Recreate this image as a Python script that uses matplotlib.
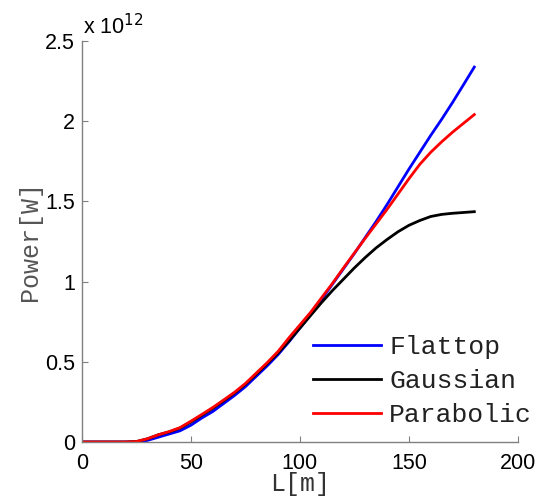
import matplotlib
matplotlib.use('Agg')
import matplotlib.pyplot as plt

# longitud [m] y potencia [x 1e12 W]
L = [0, 5, 10, 15, 20, 25, 30, 35, 40, 45, 50, 55, 60, 65, 70, 75, 80, 85, 90,
     95, 100, 105, 110, 115, 120, 125, 130, 135, 140, 145, 150, 155, 160, 165,
     170, 175, 180]

flattop = [0, 0, 0, 0, 0, 0.001, 0.01, 0.03, 0.05, 0.07, 0.105, 0.15, 0.19,
           0.24, 0.29, 0.345, 0.41, 0.475, 0.545, 0.625, 0.71, 0.795, 0.89,
           0.985, 1.08, 1.175, 1.275, 1.375, 1.48, 1.59, 1.70, 1.805, 1.91,
           2.01, 2.115, 2.225, 2.336]
gaussian = [0, 0, 0, 0, 0, 0.003, 0.02, 0.045, 0.063, 0.087, 0.125, 0.167, 0.21,
            0.257, 0.305, 0.36, 0.423, 0.488, 0.555, 0.63, 0.71, 0.79, 0.87,
            0.945, 1.015, 1.085, 1.15, 1.21, 1.262, 1.31, 1.35, 1.38, 1.405,
            1.418, 1.425, 1.43, 1.435]
parabolic = [0, 0, 0, 0, 0, 0.003, 0.02, 0.045, 0.065, 0.09, 0.13, 0.172, 0.215,
             0.262, 0.31, 0.365, 0.43, 0.495, 0.565, 0.65, 0.73, 0.81, 0.90,
             0.99, 1.085, 1.178, 1.27, 1.36, 1.45, 1.545, 1.64, 1.73, 1.805,
             1.87, 1.93, 1.985, 2.04]

etiquetas = ['Flattop', 'Gaussian', 'Parabolic']
colores = ['#0000ff', '#000000', '#ff0000']

SANS = 'Liberation Sans'
MONO = 'Liberation Mono'
GRIS = '#808080'

fig = plt.figure(figsize=(5.44, 4.98), dpi=100)
ax = fig.add_axes([0.1507, 0.1124, 0.8013, 0.8058])

for serie, lab, col in zip([flattop, gaussian, parabolic], etiquetas, colores):
    ax.plot(L, serie, color=col, linewidth=2.0, label=lab)

ax.set_xlim(0, 200)
ax.set_ylim(0, 2.5)
ax.set_xticks([0, 50, 100, 150, 200])
ax.set_yticks([0, 0.5, 1, 1.5, 2, 2.5])
ax.set_yticklabels(['0', '0.5', '1', '1.5', '2', '2.5'])

for s in ['top', 'right']:
    ax.spines[s].set_visible(False)
for s in ['left', 'bottom']:
    ax.spines[s].set_color(GRIS)
    ax.spines[s].set_linewidth(1.0)

ax.tick_params(direction='in', length=4, width=0.8, color=GRIS,
               labelsize=15.5, labelcolor='black')
ax.tick_params(axis='x', pad=8)
ax.tick_params(axis='y', pad=5)
for t in ax.get_xticklabels() + ax.get_yticklabels():
    t.set_fontfamily(SANS)

ax.set_xlabel('L[m]', fontfamily=MONO, fontsize=18, labelpad=-1.5, color='#333333')
ax.set_ylabel('Power[W]', fontfamily=MONO, fontsize=18, labelpad=2, color='#555555')

fig.text(0.152, 0.932, r'x 10$^{12}$', fontfamily=SANS, fontsize=15.5,
         ha='left', va='baseline')

leg = ax.legend(loc='lower right', bbox_to_anchor=(1.057, 0.01), frameon=False,
                prop={'family': MONO, 'size': 19}, handlelength=2.6,
                handletextpad=0.3, labelspacing=0.38, borderaxespad=0)
for t in leg.get_texts():
    t.set_color('#222222')

fig.savefig('out.png', dpi=100)
